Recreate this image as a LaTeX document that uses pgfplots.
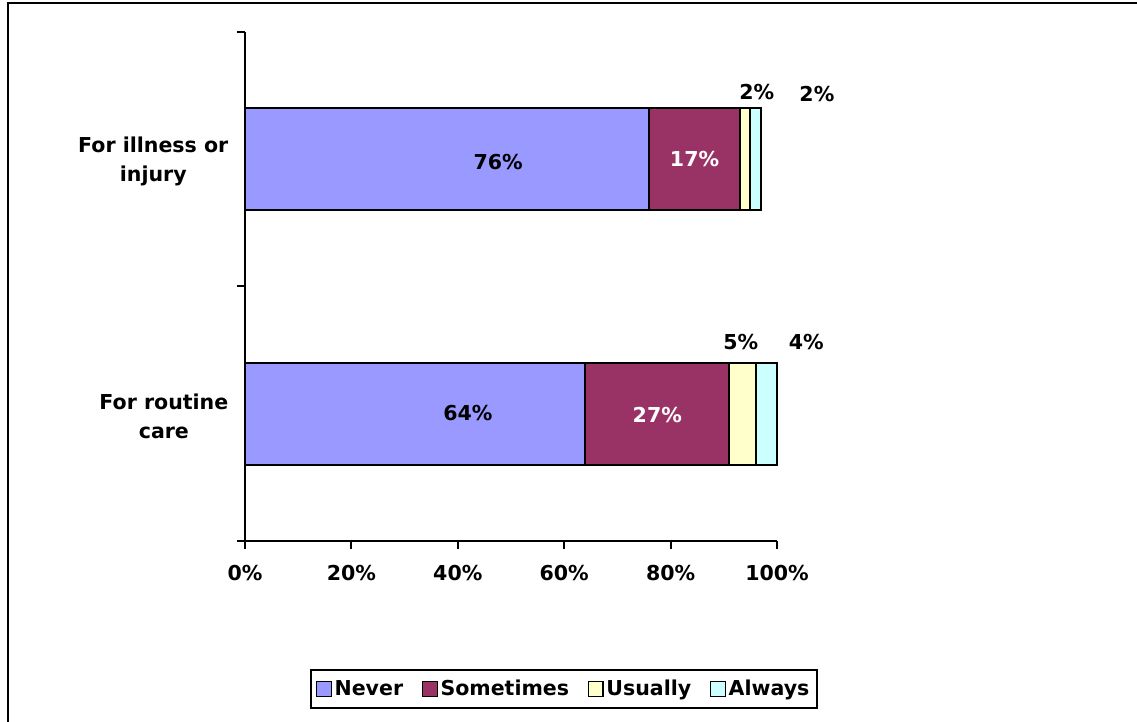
\documentclass[border=0pt]{standalone}
\usepackage{fontspec}
\setmainfont{DejaVu Sans}
\usepackage{pgfplots}
\pgfplotsset{compat=1.18}

\definecolor{cNever}{HTML}{9999FF}
\definecolor{cSometimes}{HTML}{993366}
\definecolor{cUsually}{HTML}{FFFFCC}
\definecolor{cAlways}{HTML}{CCFFFF}

\begin{document}
\begin{tikzpicture}[font=\fontsize{15.4}{21.75}\selectfont\bfseries]
\useasboundingbox (0,0) rectangle (852.75pt,540.75pt);
% outer frame
\draw[line width=2pt] (6pt,-20pt) -- (6pt,538.5pt) -- (880pt,538.5pt);
\begin{axis}[
  at={(183.75pt,135pt)}, anchor=south west,
  scale only axis, width=399pt, height=381.75pt,
  xbar stacked, bar width=0.4,
  xmin=0, xmax=100, ymin=-0.5, ymax=1.5,
  clip=false,
  axis lines*=left,
  axis line style={line width=1.5pt},
  tick align=outside,
  major tick length=6pt, minor tick length=6pt,
  /pgf/number format/assume math mode=true,
  xtick={0,20,...,100},
  xticklabel={\pgfmathprintnumber{\tick}\%},
  x tick style={line width=1.5pt, black},
  xticklabel style={yshift=-9pt},
  ytick={0,1},
  yticklabels={For routine\\care, For illness or\\injury},
  yticklabel style={align=center, xshift=-3pt, yshift=-2pt},
  major y tick style={draw=none},
  minor ytick={-0.5,0.5,1.5},
  minor y tick style={line width=1.5pt, black},
  legend style={at={(0.5996,-0.2908)}, anchor=center, legend columns=4,
    draw=black, line width=1.5pt, inner xsep=4pt, inner ysep=6pt,
    /tikz/every even column/.append style={column sep=12pt}},
  legend image code/.code={\draw[#1, line width=1pt] (0pt,-5.5pt) rectangle (11pt,5.5pt);},
  every axis plot/.append style={draw=black, line width=1.5pt},
  after end axis/.code={
    % value labels, set above the bars
    \node at (axis cs:47.6,0.990) {76\%};
    \node[text=white] at (axis cs:84.5,1.0) {17\%};
    \node at (axis cs:96.2,1.264) {2\%};
    \node at (axis cs:107.5,1.256) {2\%};
    \node at (axis cs:41.9,0.004) {64\%};
    \node[text=white] at (axis cs:77.5,-0.004) {27\%};
    \node at (axis cs:93.2,0.282) {5\%};
    \node at (axis cs:105.5,0.282) {4\%};
  },
]
\addplot[fill=cNever] coordinates {(64,0) (76,1)};
\addplot[fill=cSometimes] coordinates {(27,0) (17,1)};
\addplot[fill=cUsually] coordinates {(5,0) (2,1)};
\addplot[fill=cAlways] coordinates {(4,0) (2,1)};
\legend{Never, Sometimes, Usually, Always}
\end{axis}
\end{tikzpicture}
\end{document}
